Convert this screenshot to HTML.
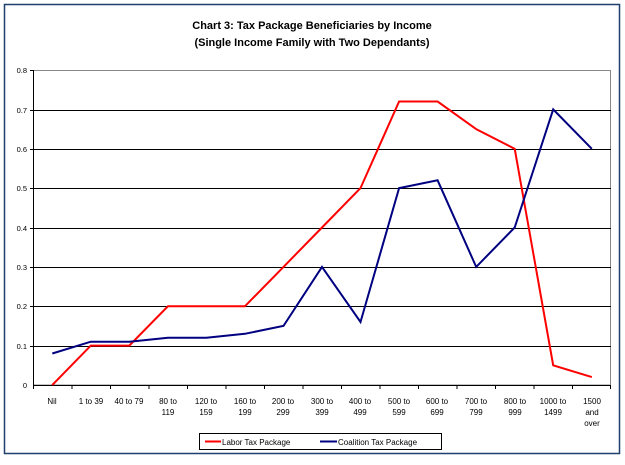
<!DOCTYPE html>
<html><head><style>
body{margin:0;background:#fff;}
svg text{font-family:"Liberation Sans",sans-serif;}
</style></head><body>
<svg width="625" height="460" xmlns="http://www.w3.org/2000/svg">
<rect x="0" y="0" width="625" height="460" fill="#fff"/>
<rect x="4.5" y="4.5" width="615" height="449" fill="none" stroke="#1f3f6f" stroke-width="1.5"/>
<text x="312" y="29" font-size="11" font-weight="bold" text-anchor="middle">Chart 3: Tax Package Beneficiaries by Income</text>
<text x="312" y="46" font-size="11" font-weight="bold" text-anchor="middle">(Single Income Family with Two Dependants)</text>
<rect x="33.5" y="70.5" width="577" height="314.5" fill="none" stroke="#888" stroke-width="1"/>
<g stroke="#000" stroke-width="1">
<line x1="33" y1="110.5" x2="611" y2="110.5"/>
<line x1="33" y1="149.5" x2="611" y2="149.5"/>
<line x1="33" y1="188.5" x2="611" y2="188.5"/>
<line x1="33" y1="228.5" x2="611" y2="228.5"/>
<line x1="33" y1="267.5" x2="611" y2="267.5"/>
<line x1="33" y1="306.5" x2="611" y2="306.5"/>
<line x1="33" y1="346.5" x2="611" y2="346.5"/>
<line x1="33" y1="385.5" x2="611" y2="385.5"/>
<line x1="33.5" y1="70" x2="33.5" y2="389"/>
<g>
<line x1="30" y1="70.5" x2="33" y2="70.5"/><line x1="30" y1="110.5" x2="33" y2="110.5"/><line x1="30" y1="149.5" x2="33" y2="149.5"/><line x1="30" y1="188.5" x2="33" y2="188.5"/><line x1="30" y1="228.5" x2="33" y2="228.5"/><line x1="30" y1="267.5" x2="33" y2="267.5"/><line x1="30" y1="306.5" x2="33" y2="306.5"/><line x1="30" y1="346.5" x2="33" y2="346.5"/>
</g>
<g>
<line x1="72" y1="385" x2="72" y2="389"/><line x1="110.5" y1="385" x2="110.5" y2="389"/><line x1="149" y1="385" x2="149" y2="389"/><line x1="187.5" y1="385" x2="187.5" y2="389"/><line x1="226" y1="385" x2="226" y2="389"/><line x1="264.5" y1="385" x2="264.5" y2="389"/><line x1="303" y1="385" x2="303" y2="389"/><line x1="341.5" y1="385" x2="341.5" y2="389"/><line x1="380" y1="385" x2="380" y2="389"/><line x1="418.5" y1="385" x2="418.5" y2="389"/><line x1="457" y1="385" x2="457" y2="389"/><line x1="495.5" y1="385" x2="495.5" y2="389"/><line x1="534" y1="385" x2="534" y2="389"/><line x1="572.5" y1="385" x2="572.5" y2="389"/><line x1="610.5" y1="385" x2="610.5" y2="389"/>
</g>
</g>
<g font-size="7.5" text-anchor="end">
<text x="27" y="73">0.8</text><text x="27" y="113">0.7</text><text x="27" y="152">0.6</text><text x="27" y="191">0.5</text><text x="27" y="231">0.4</text><text x="27" y="270">0.3</text><text x="27" y="309">0.2</text><text x="27" y="349">0.1</text><text x="27" y="388">0</text>
</g>
<g font-size="8" text-anchor="middle">
<text x="52" y="404">Nil</text>
<text x="91" y="404">1 to 39</text>
<text x="129" y="404">40 to 79</text>
<text x="168" y="404">80 to</text><text x="168" y="415">119</text>
<text x="206" y="404">120 to</text><text x="206" y="415">159</text>
<text x="245" y="404">160 to</text><text x="245" y="415">199</text>
<text x="283" y="404">200 to</text><text x="283" y="415">299</text>
<text x="322" y="404">300 to</text><text x="322" y="415">399</text>
<text x="360" y="404">400 to</text><text x="360" y="415">499</text>
<text x="399" y="404">500 to</text><text x="399" y="415">599</text>
<text x="437" y="404">600 to</text><text x="437" y="415">699</text>
<text x="476" y="404">700 to</text><text x="476" y="415">799</text>
<text x="515" y="404">800 to</text><text x="515" y="415">999</text>
<text x="553" y="404">1000 to</text><text x="553" y="415">1499</text>
<text x="592" y="404">1500</text><text x="592" y="415">and</text><text x="592" y="426">over</text>
</g>
<polyline fill="none" stroke="#ff0000" stroke-width="2" points="52.3,385 90.8,345.6 129.3,345.6 167.9,306.3 206.4,306.3 244.9,306.3 283.5,266.9 322,227.5 360.5,188.1 399.1,101.5 437.6,101.5 476.2,129.1 514.7,148.8 553.2,365.3 591.8,377.1"/>
<polyline fill="none" stroke="#000080" stroke-width="2" points="52.3,353.5 90.8,341.7 129.3,341.7 167.9,337.8 206.4,337.8 244.9,333.8 283.5,325.9 322,266.9 360.5,322 399.1,188.1 437.6,180.3 476.2,266.9 514.7,227.5 553.2,109.4 591.8,148.8"/>
<rect x="199.5" y="433.5" width="242" height="16" fill="#fff" stroke="#000" stroke-width="1"/>
<line x1="205" y1="441.5" x2="221" y2="441.5" stroke="#ff0000" stroke-width="2"/>
<text x="222" y="445" font-size="8">Labor Tax Package</text>
<line x1="320" y1="441.5" x2="337" y2="441.5" stroke="#000080" stroke-width="2"/>
<text x="338" y="445" font-size="8">Coalition Tax Package</text>
</svg>
</body></html>
